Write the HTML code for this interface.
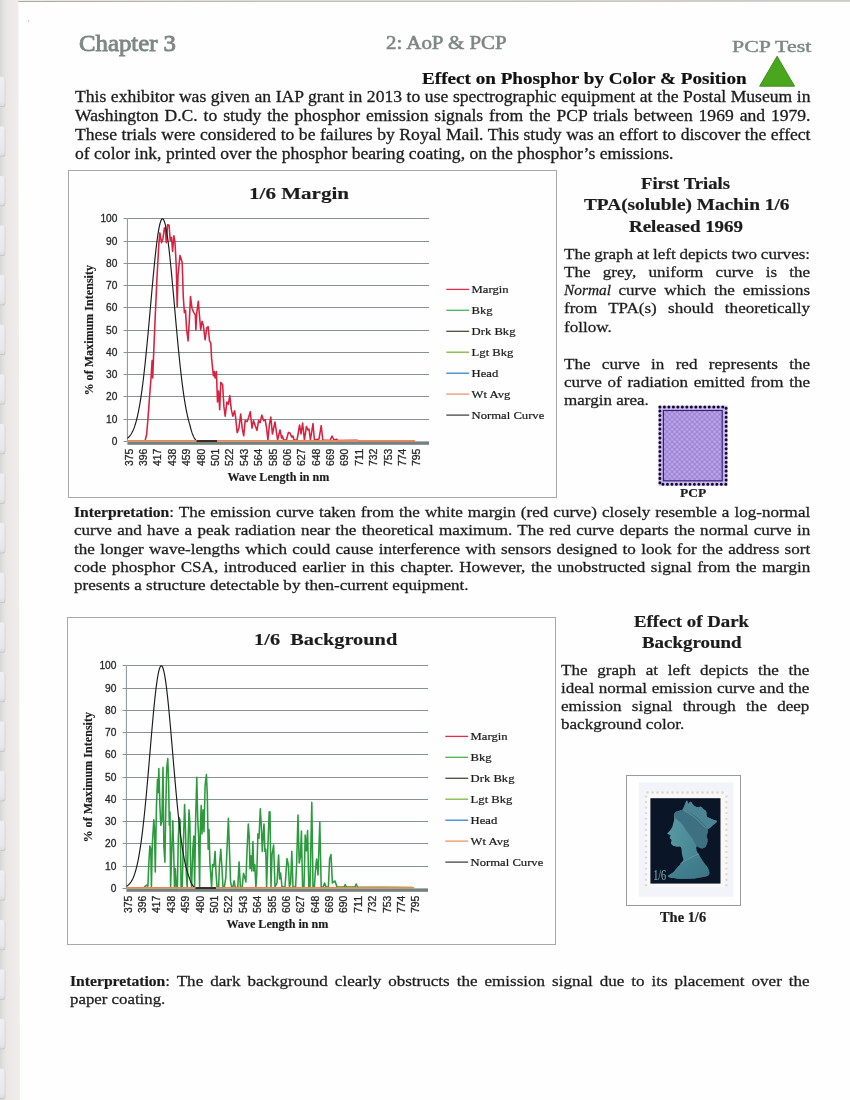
<!DOCTYPE html>
<html lang="en"><head><meta charset="utf-8"><title>Chapter 3 - 2: AoP &amp; PCP - PCP Test</title>
<style>
html,body{margin:0;padding:0;background:#fff}
body{width:850px;height:1100px;overflow:hidden}
#page{filter:blur(0.4px);position:relative;width:850px;height:1100px;overflow:hidden;background:#fefefe;font-family:"Liberation Serif","DejaVu Serif",serif;color:#1c1c1c}
header,section,h1,h2,p,.blk{margin:0;padding:0;font-size:inherit;font-weight:normal}
.t{position:absolute;display:block;white-space:pre;line-height:1;font-weight:normal;-webkit-text-stroke:0.26px currentColor;transform-origin:0 0}
i{font-style:italic;display:inline-block;transform:scaleX(0.9);transform-origin:0 50%;margin-right:-5px}
.ib{display:inline-block;transform:scaleX(0.917);transform-origin:0 50%;margin-right:-7.7px}
.b,b{font-weight:bold;-webkit-text-stroke:0.2px currentColor}
.n1{-webkit-text-stroke-width:0.3px}
.hd{-webkit-text-stroke:0.85px currentColor}
.h2{-webkit-text-stroke-width:0.6px}
.h3{-webkit-text-stroke-width:0.45px}
svg{position:absolute;left:0;top:0;overflow:visible}
svg text{font-family:"Liberation Serif","DejaVu Serif",serif}
svg text.s{font-family:"Liberation Sans","DejaVu Sans",sans-serif}
svg .k text{fill:#1c1c1c;stroke:#1c1c1c;stroke-width:0.2px}
svg .k text[font-weight]{stroke-width:0.15px}
svg .k text.lg{stroke-width:0.22px}
svg .k text.s{fill:#262626;stroke:#262626;stroke-width:0.28px}

</style></head>
<body>
<div id="page">
<svg class="bg" width="850" height="1100" viewBox="0 0 850 1100" aria-hidden="true"><defs><linearGradient id="sg" x1="0" y1="0" x2="1" y2="0"><stop offset="0" stop-color="#d8d5d5"/><stop offset="0.14" stop-color="#e1dede"/><stop offset="0.3" stop-color="#eae6e6"/><stop offset="0.8" stop-color="#efebeb"/><stop offset="1" stop-color="#f1eded"/></linearGradient><linearGradient id="tg" x1="0" y1="0" x2="0" y2="1"><stop offset="0" stop-color="#efeff1"/><stop offset="0.85" stop-color="#e7e7e9"/><stop offset="1" stop-color="#dddcdd"/></linearGradient></defs><polygon points="0,0 18.4,0 19.9,1100 0,1100" fill="url(#sg)"/><rect x="-3" y="77.6" width="8.3" height="29.5" rx="2.2" fill="#cbc8c8"/><rect x="-3" y="76.7" width="7.7" height="29.4" rx="2.2" fill="url(#tg)"/><rect x="-3" y="127.2" width="8.3" height="29.5" rx="2.2" fill="#cbc8c8"/><rect x="-3" y="126.3" width="7.7" height="29.4" rx="2.2" fill="url(#tg)"/><rect x="-3" y="176.8" width="8.3" height="29.5" rx="2.2" fill="#cbc8c8"/><rect x="-3" y="175.9" width="7.7" height="29.4" rx="2.2" fill="url(#tg)"/><rect x="-3" y="226.4" width="8.3" height="29.5" rx="2.2" fill="#cbc8c8"/><rect x="-3" y="225.5" width="7.7" height="29.4" rx="2.2" fill="url(#tg)"/><rect x="-3" y="276.0" width="8.3" height="29.5" rx="2.2" fill="#cbc8c8"/><rect x="-3" y="275.1" width="7.7" height="29.4" rx="2.2" fill="url(#tg)"/><rect x="-3" y="325.6" width="8.3" height="29.5" rx="2.2" fill="#cbc8c8"/><rect x="-3" y="324.7" width="7.7" height="29.4" rx="2.2" fill="url(#tg)"/><rect x="-3" y="375.2" width="8.3" height="29.5" rx="2.2" fill="#cbc8c8"/><rect x="-3" y="374.3" width="7.7" height="29.4" rx="2.2" fill="url(#tg)"/><rect x="-3" y="424.8" width="8.3" height="29.5" rx="2.2" fill="#cbc8c8"/><rect x="-3" y="423.9" width="7.7" height="29.4" rx="2.2" fill="url(#tg)"/><rect x="-3" y="474.4" width="8.3" height="29.5" rx="2.2" fill="#cbc8c8"/><rect x="-3" y="473.5" width="7.7" height="29.4" rx="2.2" fill="url(#tg)"/><rect x="-3" y="524.0" width="8.3" height="29.5" rx="2.2" fill="#cbc8c8"/><rect x="-3" y="523.1" width="7.7" height="29.4" rx="2.2" fill="url(#tg)"/><rect x="-3" y="573.6" width="8.3" height="29.5" rx="2.2" fill="#cbc8c8"/><rect x="-3" y="572.7" width="7.7" height="29.4" rx="2.2" fill="url(#tg)"/><rect x="-3" y="623.2" width="8.3" height="29.5" rx="2.2" fill="#cbc8c8"/><rect x="-3" y="622.3" width="7.7" height="29.4" rx="2.2" fill="url(#tg)"/><rect x="-3" y="672.8" width="8.3" height="29.5" rx="2.2" fill="#cbc8c8"/><rect x="-3" y="671.9" width="7.7" height="29.4" rx="2.2" fill="url(#tg)"/><rect x="-3" y="722.4" width="8.3" height="29.5" rx="2.2" fill="#cbc8c8"/><rect x="-3" y="721.5" width="7.7" height="29.4" rx="2.2" fill="url(#tg)"/><rect x="-3" y="772.0" width="8.3" height="29.5" rx="2.2" fill="#cbc8c8"/><rect x="-3" y="771.1" width="7.7" height="29.4" rx="2.2" fill="url(#tg)"/><rect x="-3" y="821.6" width="8.3" height="29.5" rx="2.2" fill="#cbc8c8"/><rect x="-3" y="820.7" width="7.7" height="29.4" rx="2.2" fill="url(#tg)"/><rect x="-3" y="871.2" width="8.3" height="29.5" rx="2.2" fill="#cbc8c8"/><rect x="-3" y="870.3" width="7.7" height="29.4" rx="2.2" fill="url(#tg)"/><rect x="-3" y="920.8" width="8.3" height="29.5" rx="2.2" fill="#cbc8c8"/><rect x="-3" y="919.9" width="7.7" height="29.4" rx="2.2" fill="url(#tg)"/><rect x="-3" y="970.4" width="8.3" height="29.5" rx="2.2" fill="#cbc8c8"/><rect x="-3" y="969.5" width="7.7" height="29.4" rx="2.2" fill="url(#tg)"/><rect x="-3" y="1020.0" width="8.3" height="29.5" rx="2.2" fill="#cbc8c8"/><rect x="-3" y="1019.1" width="7.7" height="29.4" rx="2.2" fill="url(#tg)"/><rect x="-3" y="1069.6" width="8.3" height="29.5" rx="2.2" fill="#cbc8c8"/><rect x="-3" y="1068.7" width="7.7" height="29.4" rx="2.2" fill="url(#tg)"/><rect x="18.4" y="-1" width="832" height="1.6" fill="#e0dedc"/><polygon points="18.4,0.9 850,0.5 850,1.5 18.4,1.9" fill="#aba8a5"/><circle cx="28.6" cy="21" r="0.6" fill="#8a8a8a"/></svg>
<header>
<span class="t hd" style="left:78.8px;top:33px;font-size:22.4px;transform:scaleX(1.1064);color:#7d8784">Chapter 3</span>
<span class="t hd h2" style="left:386.4px;top:33px;font-size:19.8px;transform:scaleX(1.0563);color:#7d8784">2: AoP &amp; PCP</span>
<span class="t hd h3" style="left:731.8px;top:38px;font-size:17.9px;transform-origin:0 14px;transform:scale(1.2208,0.94);color:#7d8784">PCP Test</span>
</header>
<h1 class="blk">
<span class="t b" style="left:422.4px;top:71px;font-size:16.9px;transform:scaleX(1.1329);color:#111">Effect on Phosphor by Color &amp; Position</span>
</h1>
<svg width="850" height="1100" viewBox="0 0 850 1100" aria-hidden="true"><polygon points="777.1,56.2 794.6,86.2 759.6,86.2" fill="#4aa71d" stroke="#3a861b" stroke-width="0.9" stroke-linejoin="round"/></svg>
<p class="blk">
<span class="t n1" style="left:75.0px;top:89px;font-size:16.8px;transform:scaleX(1.0480);word-spacing:0.169px">This exhibitor was given an IAP grant in 2013 to use spectrographic equipment at the Postal Museum in</span>
<span class="t n1" style="left:75.0px;top:108px;font-size:16.8px;transform:scaleX(1.0480);word-spacing:1.426px">Washington D.C. to study the phosphor emission signals from the PCP trials between 1969 and 1979.</span>
<span class="t n1" style="left:75.0px;top:127px;font-size:16.8px;transform:scaleX(1.0480);word-spacing:0.129px">These trials were considered to be failures by Royal Mail. This study was an effort to discover the effect</span>
<span class="t n1" style="left:75.0px;top:146px;font-size:16.8px;transform:scaleX(1.0488)">of color ink, printed over the phosphor bearing coating, on the phosphor’s emissions.</span>
</p>
<section>
<svg class="chart" width="850" height="1100" viewBox="0 0 850 1100" role="img" aria-label="Emission chart for the 1/6 margin">
<g class="k" transform="translate(0.0,0.0)">
<rect x="68.5" y="170.5" width="488" height="327" fill="#fefefe" stroke="#a8a8a8" stroke-width="1"/>
<line x1="123.60000000000001" y1="441.5" x2="127.4" y2="441.5" stroke="#869292" stroke-width="1"/>
<text class="s" x="117.4" y="445.1" font-size="10.2" text-anchor="end">0</text>
<line x1="127.4" y1="419.5" x2="429.0" y2="419.5" stroke="#869292" stroke-width="1"/>
<line x1="123.60000000000001" y1="419.5" x2="127.4" y2="419.5" stroke="#869292" stroke-width="1"/>
<text class="s" x="117.4" y="423.1" font-size="10.2" text-anchor="end">10</text>
<line x1="127.4" y1="396.5" x2="429.0" y2="396.5" stroke="#869292" stroke-width="1"/>
<line x1="123.60000000000001" y1="396.5" x2="127.4" y2="396.5" stroke="#869292" stroke-width="1"/>
<text class="s" x="117.4" y="400.1" font-size="10.2" text-anchor="end">20</text>
<line x1="127.4" y1="374.5" x2="429.0" y2="374.5" stroke="#869292" stroke-width="1"/>
<line x1="123.60000000000001" y1="374.5" x2="127.4" y2="374.5" stroke="#869292" stroke-width="1"/>
<text class="s" x="117.4" y="378.1" font-size="10.2" text-anchor="end">30</text>
<line x1="127.4" y1="352.5" x2="429.0" y2="352.5" stroke="#869292" stroke-width="1"/>
<line x1="123.60000000000001" y1="352.5" x2="127.4" y2="352.5" stroke="#869292" stroke-width="1"/>
<text class="s" x="117.4" y="356.1" font-size="10.2" text-anchor="end">40</text>
<line x1="127.4" y1="330.5" x2="429.0" y2="330.5" stroke="#869292" stroke-width="1"/>
<line x1="123.60000000000001" y1="330.5" x2="127.4" y2="330.5" stroke="#869292" stroke-width="1"/>
<text class="s" x="117.4" y="334.1" font-size="10.2" text-anchor="end">50</text>
<line x1="127.4" y1="307.5" x2="429.0" y2="307.5" stroke="#869292" stroke-width="1"/>
<line x1="123.60000000000001" y1="307.5" x2="127.4" y2="307.5" stroke="#869292" stroke-width="1"/>
<text class="s" x="117.4" y="311.1" font-size="10.2" text-anchor="end">60</text>
<line x1="127.4" y1="285.5" x2="429.0" y2="285.5" stroke="#869292" stroke-width="1"/>
<line x1="123.60000000000001" y1="285.5" x2="127.4" y2="285.5" stroke="#869292" stroke-width="1"/>
<text class="s" x="117.4" y="289.1" font-size="10.2" text-anchor="end">70</text>
<line x1="127.4" y1="263.5" x2="429.0" y2="263.5" stroke="#869292" stroke-width="1"/>
<line x1="123.60000000000001" y1="263.5" x2="127.4" y2="263.5" stroke="#869292" stroke-width="1"/>
<text class="s" x="117.4" y="267.1" font-size="10.2" text-anchor="end">80</text>
<line x1="127.4" y1="241.5" x2="429.0" y2="241.5" stroke="#869292" stroke-width="1"/>
<line x1="123.60000000000001" y1="241.5" x2="127.4" y2="241.5" stroke="#869292" stroke-width="1"/>
<text class="s" x="117.4" y="245.1" font-size="10.2" text-anchor="end">90</text>
<line x1="127.4" y1="218.5" x2="429.0" y2="218.5" stroke="#869292" stroke-width="1"/>
<line x1="123.60000000000001" y1="218.5" x2="127.4" y2="218.5" stroke="#869292" stroke-width="1"/>
<text class="s" x="117.4" y="222.1" font-size="10.2" text-anchor="end">100</text>
<line x1="127.4" y1="218.8" x2="127.4" y2="441.4" stroke="#869292" stroke-width="1"/>
<text class="s" font-size="10" textLength="17.3" lengthAdjust="spacingAndGlyphs" transform="translate(132.6,466) rotate(-90)">375</text>
<text class="s" font-size="10" textLength="17.3" lengthAdjust="spacingAndGlyphs" transform="translate(147.0,466) rotate(-90)">396</text>
<text class="s" font-size="10" textLength="17.3" lengthAdjust="spacingAndGlyphs" transform="translate(161.4,466) rotate(-90)">417</text>
<text class="s" font-size="10" textLength="17.3" lengthAdjust="spacingAndGlyphs" transform="translate(175.8,466) rotate(-90)">438</text>
<text class="s" font-size="10" textLength="17.3" lengthAdjust="spacingAndGlyphs" transform="translate(190.2,466) rotate(-90)">459</text>
<text class="s" font-size="10" textLength="17.3" lengthAdjust="spacingAndGlyphs" transform="translate(204.5,466) rotate(-90)">480</text>
<text class="s" font-size="10" textLength="17.3" lengthAdjust="spacingAndGlyphs" transform="translate(218.9,466) rotate(-90)">501</text>
<text class="s" font-size="10" textLength="17.3" lengthAdjust="spacingAndGlyphs" transform="translate(233.3,466) rotate(-90)">522</text>
<text class="s" font-size="10" textLength="17.3" lengthAdjust="spacingAndGlyphs" transform="translate(247.7,466) rotate(-90)">543</text>
<text class="s" font-size="10" textLength="17.3" lengthAdjust="spacingAndGlyphs" transform="translate(262.1,466) rotate(-90)">564</text>
<text class="s" font-size="10" textLength="17.3" lengthAdjust="spacingAndGlyphs" transform="translate(276.5,466) rotate(-90)">585</text>
<text class="s" font-size="10" textLength="17.3" lengthAdjust="spacingAndGlyphs" transform="translate(290.9,466) rotate(-90)">606</text>
<text class="s" font-size="10" textLength="17.3" lengthAdjust="spacingAndGlyphs" transform="translate(305.3,466) rotate(-90)">627</text>
<text class="s" font-size="10" textLength="17.3" lengthAdjust="spacingAndGlyphs" transform="translate(319.7,466) rotate(-90)">648</text>
<text class="s" font-size="10" textLength="17.3" lengthAdjust="spacingAndGlyphs" transform="translate(334.1,466) rotate(-90)">669</text>
<text class="s" font-size="10" textLength="17.3" lengthAdjust="spacingAndGlyphs" transform="translate(348.4,466) rotate(-90)">690</text>
<text class="s" font-size="10" textLength="17.3" lengthAdjust="spacingAndGlyphs" transform="translate(362.8,466) rotate(-90)">711</text>
<text class="s" font-size="10" textLength="17.3" lengthAdjust="spacingAndGlyphs" transform="translate(377.2,466) rotate(-90)">732</text>
<text class="s" font-size="10" textLength="17.3" lengthAdjust="spacingAndGlyphs" transform="translate(391.6,466) rotate(-90)">753</text>
<text class="s" font-size="10" textLength="17.3" lengthAdjust="spacingAndGlyphs" transform="translate(406.0,466) rotate(-90)">774</text>
<text class="s" font-size="10" textLength="17.3" lengthAdjust="spacingAndGlyphs" transform="translate(420.4,466) rotate(-90)">795</text>
<path d="M145.1,440.6 L146.6,434.7 L147.9,419.5 L149.5,397.7 L151.2,375.8 L152.1,360.6 L152.7,378.0 L153.8,349.6 L155.3,314.7 L157.1,275.5 L158.8,244.9 L159.9,232.9 L161.5,242.7 L163.0,238.4 L164.3,228.5 L165.2,227.5 L166.3,242.7 L167.6,224.8 L169.1,225.3 L170.2,240.5 L171.5,237.3 L172.6,251.5 L173.9,235.7 L175.0,242.7 L176.3,266.7 L177.2,307.1 L178.0,275.5 L180.0,255.4 L182.2,262.4 L183.3,297.3 L184.4,312.6 L185.5,310.4 L186.6,328.9 L188.1,340.9 L189.4,319.1 L190.5,296.6 L192.0,308.2 L193.8,312.6 L195.3,314.7 L195.9,330.0 L196.8,312.6 L198.3,301.2 L199.4,314.7 L200.7,330.0 L202.0,321.3 L203.4,325.6 L205.1,339.8 L206.8,327.8 L208.2,326.7 L209.5,340.9 L210.8,343.1 L211.6,358.4 L213.4,375.8 L214.3,371.5 L215.1,378.0 L216.4,371.5 L217.5,402.0 L218.6,391.1 L219.7,409.7 L220.8,382.4 L222.6,384.6 L223.9,406.4 L225.2,416.2 L226.9,402.0 L228.4,404.2 L229.8,395.5 L231.3,409.7 L232.8,416.2 L234.6,410.7 L235.6,417.3 L237.2,432.6 L238.9,428.2 L240.7,414.0 L242.2,428.2 L243.7,435.8 L245.2,420.6 L247.0,421.7 L248.7,417.3 L250.3,411.8 L252.0,428.2 L253.5,420.6 L255.3,426.0 L257.0,430.4 L258.6,420.6 L260.1,422.7 L261.8,415.1 L263.6,420.6 L265.1,419.5 L266.6,428.2 L267.9,440.2 L269.5,423.8 L270.8,417.0 L272.4,434.0 L275.0,422.0 L277.6,440.0 L280.0,430.0 L281.6,438.0 L282.4,436.0 L283.6,440.0 L286.4,440.0 L288.4,432.4 L290.0,433.0 L291.6,437.0 L293.0,436.0 L294.0,440.0 L297.0,440.0 L299.6,425.0 L301.0,434.0 L302.6,423.0 L304.4,440.0 L306.4,426.4 L308.0,430.0 L309.0,429.0 L310.4,440.0 L313.0,423.6 L314.4,440.0 L319.0,439.0 L321.2,425.6 L322.8,440.0 L330.0,440.6 L332.0,436.0 L334.0,440.0 L336.4,439.2 L338.0,440.6 L357.0,440.2 L358.0,440.8 L415.0,440.8" fill="none" stroke="#d9203f" stroke-width="1.55" stroke-linejoin="round"/>
<path d="M127.4,438.3 L127.9,437.9 L128.4,437.5 L128.9,437.0 L129.4,436.4 L129.9,435.8 L130.4,435.2 L130.9,434.5 L131.4,433.7 L131.9,432.8 L132.4,431.8 L132.9,430.8 L133.4,429.6 L133.9,428.4 L134.4,427.1 L134.9,425.6 L135.4,424.0 L135.9,422.3 L136.4,420.5 L136.9,418.5 L137.4,416.4 L137.9,414.2 L138.4,411.8 L138.9,409.2 L139.4,406.5 L139.9,403.6 L140.4,400.6 L140.9,397.3 L141.4,394.0 L141.9,390.4 L142.4,386.7 L142.9,382.8 L143.4,378.7 L143.9,374.4 L144.4,370.0 L144.9,365.5 L145.4,360.8 L145.9,355.9 L146.4,350.9 L146.9,345.8 L147.4,340.5 L147.9,335.2 L148.4,329.8 L148.9,324.3 L149.4,318.7 L149.9,313.1 L150.4,307.5 L150.9,301.9 L151.4,296.3 L151.9,290.7 L152.4,285.2 L152.9,279.8 L153.4,274.4 L153.9,269.2 L154.4,264.1 L154.9,259.3 L155.4,254.5 L155.9,250.0 L156.4,245.8 L156.9,241.8 L157.4,238.0 L157.9,234.6 L158.4,231.4 L158.9,228.6 L159.4,226.1 L159.9,224.0 L160.4,222.2 L160.9,220.8 L161.4,219.7 L161.9,219.1 L162.4,218.8 L162.9,218.9 L163.4,219.4 L163.9,220.3 L164.4,221.6 L164.9,223.2 L165.4,225.2 L165.9,227.6 L166.4,230.3 L166.9,233.3 L167.4,236.6 L167.9,240.2 L168.4,244.1 L168.9,248.3 L169.4,252.7 L169.9,257.3 L170.4,262.2 L170.9,267.2 L171.4,272.3 L171.9,277.6 L172.4,283.0 L172.9,288.5 L173.4,294.0 L173.9,299.6 L174.4,305.3 L174.9,310.9 L175.4,316.5 L175.9,322.1 L176.4,327.6 L176.9,333.0 L177.4,338.4 L177.9,343.7 L178.4,348.9 L178.9,353.9 L179.4,358.8 L179.9,363.6 L180.4,368.2 L180.9,372.7 L181.4,377.0 L181.9,381.1 L182.4,385.1 L182.9,388.9 L183.4,392.6 L183.9,396.0 L184.4,399.3 L184.9,402.4 L185.4,405.4 L185.9,408.1 L186.4,410.8 L186.9,413.2 L187.4,415.5 L187.9,417.7 L188.4,419.7 L188.9,421.6 L189.4,423.4 L189.9,425.0 L190.4,427.0 L190.9,429.0 L191.4,430.8 L191.9,432.4 L192.4,433.8 L192.9,435.1 L193.4,436.2 L193.9,437.2 L194.4,438.1 L194.9,438.9 L195.4,439.6 L195.9,440.3 L196.4,441.1 L196.6,441.1 L217.0,441.1" fill="none" stroke="#1a1a1a" stroke-width="1.15" stroke-linejoin="round"/>
<rect x="127.4" y="441.4" width="301.6" height="3.4" fill="#74827f"/>
<rect x="127.4" y="440.0" width="287.6" height="1.5" fill="#f0884e"/>
<rect x="196.6" y="440.2" width="20.4" height="1.6" fill="#1a1a1a"/>
<text x="249.0" y="198.6" font-size="17.6" font-weight="bold" textLength="100.0" lengthAdjust="spacingAndGlyphs" xml:space="preserve">1/6 Margin</text>
<text x="227.4" y="480.5" font-size="11.8" font-weight="bold" textLength="102" lengthAdjust="spacingAndGlyphs">Wave Length in nm</text>
<text font-size="11.6" font-weight="bold" textLength="130.5" lengthAdjust="spacingAndGlyphs" transform="translate(93.1,395.5) rotate(-90)">% of Maximum Intensity</text>
<line x1="446.3" y1="289.4" x2="469.2" y2="289.4" stroke="#d9304f" stroke-width="1.3"/>
<text class="lg" font-size="11.3" transform="translate(471.6,292.9) scale(1.12,1)">Margin</text>
<line x1="446.3" y1="310.3" x2="469.2" y2="310.3" stroke="#4cb450" stroke-width="1.3"/>
<text class="lg" font-size="11.3" transform="translate(471.6,313.8) scale(1.12,1)">Bkg</text>
<line x1="446.3" y1="331.3" x2="469.2" y2="331.3" stroke="#4b4b3c" stroke-width="1.3"/>
<text class="lg" font-size="11.3" transform="translate(471.6,334.8) scale(1.12,1)">Drk Bkg</text>
<line x1="446.3" y1="352.2" x2="469.2" y2="352.2" stroke="#7cb83a" stroke-width="1.3"/>
<text class="lg" font-size="11.3" transform="translate(471.6,355.8) scale(1.12,1)">Lgt Bkg</text>
<line x1="446.3" y1="373.2" x2="469.2" y2="373.2" stroke="#3a82c8" stroke-width="1.3"/>
<text class="lg" font-size="11.3" transform="translate(471.6,376.7) scale(1.12,1)">Head</text>
<line x1="446.3" y1="394.1" x2="469.2" y2="394.1" stroke="#f0936a" stroke-width="1.3"/>
<text class="lg" font-size="11.3" transform="translate(471.6,397.6) scale(1.12,1)">Wt Avg</text>
<line x1="446.3" y1="415.1" x2="469.2" y2="415.1" stroke="#444444" stroke-width="1.3"/>
<text class="lg" font-size="11.3" transform="translate(471.6,418.6) scale(1.12,1)">Normal Curve</text>
</g></svg>
<h2 class="blk">
<span class="t b" style="left:641.4px;top:176px;font-size:16.7px;transform-origin:0 13px;transform:scale(1.1171,1.05)">First Trials</span>
<span class="t b" style="left:583.6px;top:197px;font-size:16.7px;transform-origin:0 13px;transform:scale(1.1559,1.05)">TPA(soluble) Machin 1/6</span>
<span class="t b" style="left:629.0px;top:219px;font-size:16.7px;transform-origin:0 13px;transform:scale(1.1334,1.05)">Released 1969</span>
</h2>
<p class="blk">
<span class="t" style="left:563.9px;top:246px;font-size:15.3px;transform:scaleX(1.1150);word-spacing:-0.453px">The graph at left depicts two curves:</span>
<span class="t" style="left:563.9px;top:264px;font-size:15.3px;transform:scaleX(1.1150);word-spacing:7.131px">The grey, uniform curve is the</span>
<span class="t" style="left:563.9px;top:282px;font-size:15.3px;transform:scaleX(1.1150);word-spacing:3.320px"><i>Normal</i> curve which the emissions</span>
<span class="t" style="left:563.9px;top:300px;font-size:15.3px;transform:scaleX(1.1150);word-spacing:6.302px">from TPA(s) should theoretically</span>
<span class="t" style="left:563.9px;top:319px;font-size:15.3px;transform:scaleX(1.1150)">follow.</span>
</p>
<p class="blk">
<span class="t" style="left:563.9px;top:356px;font-size:15.3px;transform:scaleX(1.1150);word-spacing:6.340px">The curve in red represents the</span>
<span class="t" style="left:563.9px;top:374px;font-size:15.3px;transform:scaleX(1.1150);word-spacing:1.243px">curve of radiation emitted from the</span>
<span class="t" style="left:563.9px;top:392px;font-size:15.3px;transform:scaleX(1.1133)">margin area.</span>
</p>
<svg width="850" height="1100" viewBox="0 0 850 1100" role="img" aria-label="PCP trial stamp"><defs><pattern id="pp" x="663.4" y="410.5" width="5" height="5" patternUnits="userSpaceOnUse"><rect width="5" height="5" fill="#a68bd9"/><circle cx="1.25" cy="1.25" r="1.1" fill="#cbb6f2"/><circle cx="3.75" cy="3.75" r="1.1" fill="#cbb6f2"/><circle cx="3.75" cy="1.25" r="0.75" fill="#8d76c9"/><circle cx="1.25" cy="3.75" r="0.75" fill="#8d76c9"/></pattern></defs><rect x="658.4" y="405.6" width="69.2" height="80.2" fill="#cdbdef"/><rect x="659.9" y="407.1" width="66.2" height="77.2" fill="none" stroke="#120a2c" stroke-width="3" stroke-linecap="round" stroke-dasharray="0.01 4.48"/><rect x="662.2" y="409.4" width="61.6" height="72.6" fill="#bda8ea"/><rect x="663.4" y="410.5" width="58.8" height="70.3" fill="url(#pp)" stroke="#2f1f70" stroke-width="1.1"/></svg>
<div class="blk">
<span class="t b" style="left:680.3px;top:486px;font-size:13.4px;transform:scaleX(1.0026)">PCP</span>
</div>
<p class="blk">
<span class="t" style="left:74.4px;top:504px;font-size:15.3px;transform:scaleX(1.1150);word-spacing:0.681px"><b class="ib">Interpretation</b>: The emission curve taken from the white margin (red curve) closely resemble a log-normal</span>
<span class="t" style="left:74.4px;top:522px;font-size:15.3px;transform:scaleX(1.1150);word-spacing:0.929px">curve and have a peak radiation near the theoretical maximum. The red curve departs the normal curve in</span>
<span class="t" style="left:74.4px;top:541px;font-size:15.3px;transform:scaleX(1.1150);word-spacing:0.944px">the longer wave-lengths which could cause interference with sensors designed to look for the address sort</span>
<span class="t" style="left:74.4px;top:559px;font-size:15.3px;transform:scaleX(1.1150);word-spacing:1.134px">code phosphor CSA, introduced earlier in this chapter. However, the unobstructed signal from the margin</span>
<span class="t" style="left:74.4px;top:577px;font-size:15.3px;transform:scaleX(1.1153)">presents a structure detectable by then-current equipment.</span>
</p>
</section>
<section>
<svg class="chart" width="850" height="1100" viewBox="0 0 850 1100" role="img" aria-label="Emission chart for the 1/6 background">
<g class="k" transform="translate(-1.0,447.0)">
<rect x="68.5" y="170.5" width="488" height="327" fill="#fefefe" stroke="#a8a8a8" stroke-width="1"/>
<line x1="123.60000000000001" y1="441.5" x2="127.4" y2="441.5" stroke="#869292" stroke-width="1"/>
<text class="s" x="117.4" y="445.1" font-size="10.2" text-anchor="end">0</text>
<line x1="127.4" y1="419.5" x2="429.0" y2="419.5" stroke="#869292" stroke-width="1"/>
<line x1="123.60000000000001" y1="419.5" x2="127.4" y2="419.5" stroke="#869292" stroke-width="1"/>
<text class="s" x="117.4" y="423.1" font-size="10.2" text-anchor="end">10</text>
<line x1="127.4" y1="396.5" x2="429.0" y2="396.5" stroke="#869292" stroke-width="1"/>
<line x1="123.60000000000001" y1="396.5" x2="127.4" y2="396.5" stroke="#869292" stroke-width="1"/>
<text class="s" x="117.4" y="400.1" font-size="10.2" text-anchor="end">20</text>
<line x1="127.4" y1="374.5" x2="429.0" y2="374.5" stroke="#869292" stroke-width="1"/>
<line x1="123.60000000000001" y1="374.5" x2="127.4" y2="374.5" stroke="#869292" stroke-width="1"/>
<text class="s" x="117.4" y="378.1" font-size="10.2" text-anchor="end">30</text>
<line x1="127.4" y1="352.5" x2="429.0" y2="352.5" stroke="#869292" stroke-width="1"/>
<line x1="123.60000000000001" y1="352.5" x2="127.4" y2="352.5" stroke="#869292" stroke-width="1"/>
<text class="s" x="117.4" y="356.1" font-size="10.2" text-anchor="end">40</text>
<line x1="127.4" y1="330.5" x2="429.0" y2="330.5" stroke="#869292" stroke-width="1"/>
<line x1="123.60000000000001" y1="330.5" x2="127.4" y2="330.5" stroke="#869292" stroke-width="1"/>
<text class="s" x="117.4" y="334.1" font-size="10.2" text-anchor="end">50</text>
<line x1="127.4" y1="307.5" x2="429.0" y2="307.5" stroke="#869292" stroke-width="1"/>
<line x1="123.60000000000001" y1="307.5" x2="127.4" y2="307.5" stroke="#869292" stroke-width="1"/>
<text class="s" x="117.4" y="311.1" font-size="10.2" text-anchor="end">60</text>
<line x1="127.4" y1="285.5" x2="429.0" y2="285.5" stroke="#869292" stroke-width="1"/>
<line x1="123.60000000000001" y1="285.5" x2="127.4" y2="285.5" stroke="#869292" stroke-width="1"/>
<text class="s" x="117.4" y="289.1" font-size="10.2" text-anchor="end">70</text>
<line x1="127.4" y1="263.5" x2="429.0" y2="263.5" stroke="#869292" stroke-width="1"/>
<line x1="123.60000000000001" y1="263.5" x2="127.4" y2="263.5" stroke="#869292" stroke-width="1"/>
<text class="s" x="117.4" y="267.1" font-size="10.2" text-anchor="end">80</text>
<line x1="127.4" y1="241.5" x2="429.0" y2="241.5" stroke="#869292" stroke-width="1"/>
<line x1="123.60000000000001" y1="241.5" x2="127.4" y2="241.5" stroke="#869292" stroke-width="1"/>
<text class="s" x="117.4" y="245.1" font-size="10.2" text-anchor="end">90</text>
<line x1="127.4" y1="218.5" x2="429.0" y2="218.5" stroke="#869292" stroke-width="1"/>
<line x1="123.60000000000001" y1="218.5" x2="127.4" y2="218.5" stroke="#869292" stroke-width="1"/>
<text class="s" x="117.4" y="222.1" font-size="10.2" text-anchor="end">100</text>
<line x1="127.4" y1="218.8" x2="127.4" y2="441.4" stroke="#869292" stroke-width="1"/>
<text class="s" font-size="10" textLength="17.3" lengthAdjust="spacingAndGlyphs" transform="translate(132.6,466) rotate(-90)">375</text>
<text class="s" font-size="10" textLength="17.3" lengthAdjust="spacingAndGlyphs" transform="translate(147.0,466) rotate(-90)">396</text>
<text class="s" font-size="10" textLength="17.3" lengthAdjust="spacingAndGlyphs" transform="translate(161.4,466) rotate(-90)">417</text>
<text class="s" font-size="10" textLength="17.3" lengthAdjust="spacingAndGlyphs" transform="translate(175.8,466) rotate(-90)">438</text>
<text class="s" font-size="10" textLength="17.3" lengthAdjust="spacingAndGlyphs" transform="translate(190.2,466) rotate(-90)">459</text>
<text class="s" font-size="10" textLength="17.3" lengthAdjust="spacingAndGlyphs" transform="translate(204.5,466) rotate(-90)">480</text>
<text class="s" font-size="10" textLength="17.3" lengthAdjust="spacingAndGlyphs" transform="translate(218.9,466) rotate(-90)">501</text>
<text class="s" font-size="10" textLength="17.3" lengthAdjust="spacingAndGlyphs" transform="translate(233.3,466) rotate(-90)">522</text>
<text class="s" font-size="10" textLength="17.3" lengthAdjust="spacingAndGlyphs" transform="translate(247.7,466) rotate(-90)">543</text>
<text class="s" font-size="10" textLength="17.3" lengthAdjust="spacingAndGlyphs" transform="translate(262.1,466) rotate(-90)">564</text>
<text class="s" font-size="10" textLength="17.3" lengthAdjust="spacingAndGlyphs" transform="translate(276.5,466) rotate(-90)">585</text>
<text class="s" font-size="10" textLength="17.3" lengthAdjust="spacingAndGlyphs" transform="translate(290.9,466) rotate(-90)">606</text>
<text class="s" font-size="10" textLength="17.3" lengthAdjust="spacingAndGlyphs" transform="translate(305.3,466) rotate(-90)">627</text>
<text class="s" font-size="10" textLength="17.3" lengthAdjust="spacingAndGlyphs" transform="translate(319.7,466) rotate(-90)">648</text>
<text class="s" font-size="10" textLength="17.3" lengthAdjust="spacingAndGlyphs" transform="translate(334.1,466) rotate(-90)">669</text>
<text class="s" font-size="10" textLength="17.3" lengthAdjust="spacingAndGlyphs" transform="translate(348.4,466) rotate(-90)">690</text>
<text class="s" font-size="10" textLength="17.3" lengthAdjust="spacingAndGlyphs" transform="translate(362.8,466) rotate(-90)">711</text>
<text class="s" font-size="10" textLength="17.3" lengthAdjust="spacingAndGlyphs" transform="translate(377.2,466) rotate(-90)">732</text>
<text class="s" font-size="10" textLength="17.3" lengthAdjust="spacingAndGlyphs" transform="translate(391.6,466) rotate(-90)">753</text>
<text class="s" font-size="10" textLength="17.3" lengthAdjust="spacingAndGlyphs" transform="translate(406.0,466) rotate(-90)">774</text>
<text class="s" font-size="10" textLength="17.3" lengthAdjust="spacingAndGlyphs" transform="translate(420.4,466) rotate(-90)">795</text>
<path d="M145.0,440.4 L147.6,438.2 L148.9,439.3 L150.0,413.1 L150.9,398.9 L151.8,402.2 L152.4,440.4 L153.3,397.8 L154.8,372.7 L155.5,382.6 L156.3,425.1 L157.4,360.7 L158.5,332.4 L159.2,345.5 L159.8,321.5 L160.9,358.6 L161.8,378.2 L162.9,373.8 L164.0,320.4 L164.9,400.0 L165.9,415.3 L166.8,360.7 L167.7,321.5 L168.8,311.6 L169.7,338.9 L170.3,378.2 L171.0,365.1 L171.6,440.4 L172.7,404.4 L173.8,373.8 L174.7,404.4 L175.5,440.4 L176.4,421.8 L177.3,440.4 L178.4,440.4 L179.3,391.3 L180.3,370.6 L181.2,373.8 L182.1,440.4 L183.2,440.4 L184.1,404.4 L185.6,357.5 L186.5,382.6 L187.3,426.2 L188.2,440.4 L189.1,395.7 L190.0,362.9 L190.8,373.8 L191.7,426.2 L192.6,440.4 L193.7,404.4 L194.8,389.1 L195.6,440.4 L196.7,369.5 L197.8,330.2 L198.7,371.6 L199.6,389.1 L200.6,440.4 L201.3,382.6 L202.2,358.6 L203.0,386.9 L204.1,362.9 L205.0,384.7 L206.1,338.9 L207.4,327.6 L208.3,347.6 L209.2,402.2 L210.0,382.6 L210.9,415.3 L211.8,428.4 L212.6,440.4 L213.7,417.5 L214.8,419.7 L216.1,404.4 L217.0,426.2 L218.1,440.4 L219.6,440.4 L220.5,417.5 L221.8,402.2 L222.9,419.7 L224.0,440.4 L225.3,440.4 L226.8,430.6 L227.9,404.4 L229.4,371.2 L230.5,404.4 L231.6,434.9 L232.7,440.4 L234.0,439.3 L235.1,433.8 L236.2,440.4 L238.8,440.4 L240.1,414.9 L241.4,440.4 L243.2,440.4 L244.5,426.2 L245.8,430.6 L246.9,434.9 L248.0,404.4 L249.3,377.1 L250.2,389.1 L251.0,421.8 L251.9,408.7 L252.8,424.0 L253.9,394.6 L254.8,424.0 L255.8,417.5 L256.9,440.4 L257.8,426.2 L258.9,386.9 L260.0,391.3 L261.3,361.8 L262.4,380.4 L263.3,404.4 L264.1,389.1 L265.0,377.1 L265.9,404.4 L266.8,402.2 L267.6,440.4 L268.7,404.4 L270.2,364.7 L271.0,365.0 L272.0,440.0 L273.0,408.0 L274.6,398.0 L276.0,440.0 L278.0,436.0 L279.6,408.0 L280.6,432.0 L281.6,426.0 L283.0,440.0 L286.0,440.0 L288.0,411.6 L289.4,418.0 L290.4,440.0 L291.6,436.0 L292.8,404.4 L294.0,440.0 L296.6,440.0 L297.6,418.0 L299.0,368.0 L300.2,416.0 L301.4,410.0 L302.4,384.0 L303.6,440.0 L305.0,440.0 L306.2,388.0 L307.4,404.0 L308.6,383.6 L309.8,440.0 L311.0,440.0 L312.8,355.4 L314.0,440.0 L315.4,440.0 L316.4,424.0 L317.6,412.0 L319.0,428.0 L320.8,375.0 L322.2,440.0 L324.2,440.0 L325.6,436.0 L327.0,440.0 L329.4,440.0 L330.6,412.0 L332.0,407.6 L333.4,436.0 L334.6,435.0 L336.0,434.0 L338.0,440.0 L345.0,440.0 L346.2,437.6 L347.4,440.0 L356.0,440.0 L357.2,437.0 L358.6,440.0 L414.0,440.4" fill="none" stroke="#2a9a3c" stroke-width="1.55" stroke-linejoin="round"/>
<path d="M127.4,439.3 L127.9,439.1 L128.4,438.7 L128.9,438.4 L129.4,437.9 L129.9,437.5 L130.4,437.0 L130.9,436.4 L131.4,435.7 L131.9,435.0 L132.4,434.3 L132.9,433.4 L133.4,432.4 L133.9,431.4 L134.4,430.3 L134.9,429.0 L135.4,427.6 L135.9,426.2 L136.4,424.5 L136.9,422.8 L137.4,420.9 L137.9,418.9 L138.4,416.7 L138.9,414.3 L139.4,411.8 L139.9,409.1 L140.4,406.2 L140.9,403.2 L141.4,399.9 L141.9,396.5 L142.4,392.9 L142.9,389.1 L143.4,385.1 L143.9,380.9 L144.4,376.5 L144.9,372.0 L145.4,367.2 L145.9,362.3 L146.4,357.2 L146.9,352.0 L147.4,346.7 L147.9,341.2 L148.4,335.5 L148.9,329.8 L149.4,324.1 L149.9,318.2 L150.4,312.3 L150.9,306.4 L151.4,300.5 L151.9,294.6 L152.4,288.7 L152.9,283.0 L153.4,277.3 L153.9,271.7 L154.4,266.3 L154.9,261.1 L155.4,256.1 L155.9,251.3 L156.4,246.7 L156.9,242.4 L157.4,238.4 L157.9,234.8 L158.4,231.5 L158.9,228.5 L159.4,225.9 L159.9,223.7 L160.4,221.9 L160.9,220.5 L161.4,219.5 L161.9,218.9 L162.4,218.8 L162.9,219.1 L163.4,219.8 L163.9,221.0 L164.4,222.5 L164.9,224.5 L165.4,226.9 L165.9,229.6 L166.4,232.7 L166.9,236.2 L167.4,240.0 L167.9,244.1 L168.4,248.5 L168.9,253.1 L169.4,258.0 L169.9,263.2 L170.4,268.5 L170.9,273.9 L171.4,279.5 L171.9,285.3 L172.4,291.1 L172.9,296.9 L173.4,302.8 L173.9,308.8 L174.4,314.7 L174.9,320.5 L175.4,326.4 L175.9,332.1 L176.4,337.8 L176.9,343.4 L177.4,348.8 L177.9,354.1 L178.4,359.3 L178.9,364.3 L179.4,369.1 L179.9,373.8 L180.4,378.3 L180.9,382.6 L181.4,386.7 L181.9,390.6 L182.4,394.4 L182.9,397.9 L183.4,401.3 L183.9,404.4 L184.4,407.4 L184.9,410.2 L185.4,412.8 L185.9,415.3 L186.4,417.6 L186.9,419.7 L187.4,421.7 L187.9,423.5 L188.4,425.2 L188.9,426.8 L189.4,428.2 L189.9,429.5 L190.4,431.1 L190.9,432.7 L191.4,434.0 L191.9,435.2 L192.4,436.2 L192.9,437.1 L193.4,437.9 L193.9,438.6 L194.4,439.3 L194.9,439.8 L195.4,440.3 L195.9,440.7 L196.4,441.2 L196.6,441.1 L217.0,441.1" fill="none" stroke="#1a1a1a" stroke-width="1.15" stroke-linejoin="round"/>
<rect x="127.4" y="441.4" width="301.6" height="3.4" fill="#74827f"/>
<rect x="127.4" y="440.0" width="287.6" height="1.5" fill="#f0884e"/>
<rect x="196.6" y="440.2" width="20.4" height="1.6" fill="#1a1a1a"/>
<text x="255.1" y="198.20000000000005" font-size="17.6" font-weight="bold" textLength="143.1" lengthAdjust="spacingAndGlyphs" xml:space="preserve">1/6  Background</text>
<text x="227.4" y="480.5" font-size="11.8" font-weight="bold" textLength="102" lengthAdjust="spacingAndGlyphs">Wave Length in nm</text>
<text font-size="11.6" font-weight="bold" textLength="130.5" lengthAdjust="spacingAndGlyphs" transform="translate(93.1,395.5) rotate(-90)">% of Maximum Intensity</text>
<line x1="446.3" y1="289.4" x2="469.2" y2="289.4" stroke="#d9304f" stroke-width="1.3"/>
<text class="lg" font-size="11.3" transform="translate(471.6,292.9) scale(1.12,1)">Margin</text>
<line x1="446.3" y1="310.3" x2="469.2" y2="310.3" stroke="#4cb450" stroke-width="1.3"/>
<text class="lg" font-size="11.3" transform="translate(471.6,313.8) scale(1.12,1)">Bkg</text>
<line x1="446.3" y1="331.3" x2="469.2" y2="331.3" stroke="#4b4b3c" stroke-width="1.3"/>
<text class="lg" font-size="11.3" transform="translate(471.6,334.8) scale(1.12,1)">Drk Bkg</text>
<line x1="446.3" y1="352.2" x2="469.2" y2="352.2" stroke="#7cb83a" stroke-width="1.3"/>
<text class="lg" font-size="11.3" transform="translate(471.6,355.8) scale(1.12,1)">Lgt Bkg</text>
<line x1="446.3" y1="373.2" x2="469.2" y2="373.2" stroke="#3a82c8" stroke-width="1.3"/>
<text class="lg" font-size="11.3" transform="translate(471.6,376.7) scale(1.12,1)">Head</text>
<line x1="446.3" y1="394.1" x2="469.2" y2="394.1" stroke="#f0936a" stroke-width="1.3"/>
<text class="lg" font-size="11.3" transform="translate(471.6,397.6) scale(1.12,1)">Wt Avg</text>
<line x1="446.3" y1="415.1" x2="469.2" y2="415.1" stroke="#444444" stroke-width="1.3"/>
<text class="lg" font-size="11.3" transform="translate(471.6,418.6) scale(1.12,1)">Normal Curve</text>
</g></svg>
<h2 class="blk">
<span class="t b" style="left:633.8px;top:614px;font-size:16.7px;transform-origin:0 13px;transform:scale(1.1280,1.05)">Effect of Dark</span>
<span class="t b" style="left:642.4px;top:635px;font-size:16.7px;transform-origin:0 13px;transform:scale(1.1322,1.05)">Background</span>
</h2>
<p class="blk">
<span class="t" style="left:561.4px;top:662px;font-size:15.3px;transform:scaleX(1.1150);word-spacing:4.849px">The graph at left depicts the the</span>
<span class="t" style="left:561.4px;top:680px;font-size:15.3px;transform:scaleX(1.1150);word-spacing:0.294px">ideal normal emission curve and the</span>
<span class="t" style="left:561.4px;top:698px;font-size:15.3px;transform:scaleX(1.1150);word-spacing:5.347px">emission signal through the deep</span>
<span class="t" style="left:561.4px;top:716px;font-size:15.3px;transform:scaleX(1.1154)">background color.</span>
</p>
<svg width="850" height="1100" viewBox="0 0 850 1100" role="img" aria-label="The 1/6 Machin stamp"><defs><linearGradient id="qf" x1="0" y1="0" x2="1" y2="0.4"><stop offset="0" stop-color="#5c9ca6"/><stop offset="1" stop-color="#3f7f8e"/></linearGradient><linearGradient id="qb" x1="0" y1="0" x2="1" y2="1"><stop offset="0" stop-color="#4a8b98"/><stop offset="1" stop-color="#3a7484"/></linearGradient></defs><rect x="626.5" y="775.5" width="114" height="130" fill="#fefefe" stroke="#9a9a9a" stroke-width="1"/><rect x="638.9" y="782.3" width="94.4" height="114.5" fill="#f3f4fa"/><rect x="645.3" y="792" width="81.9" height="95" fill="#f9f8f6"/><circle cx="647.5" cy="792.4" r="1.25" fill="#d9d5cd"/><circle cx="652.5" cy="792.4" r="1.25" fill="#d9d5cd"/><circle cx="657.5" cy="792.4" r="1.25" fill="#d9d5cd"/><circle cx="662.5" cy="792.4" r="1.25" fill="#d9d5cd"/><circle cx="667.5" cy="792.4" r="1.25" fill="#d9d5cd"/><circle cx="672.5" cy="792.4" r="1.25" fill="#d9d5cd"/><circle cx="677.5" cy="792.4" r="1.25" fill="#d9d5cd"/><circle cx="682.5" cy="792.4" r="1.25" fill="#d9d5cd"/><circle cx="687.5" cy="792.4" r="1.25" fill="#d9d5cd"/><circle cx="692.5" cy="792.4" r="1.25" fill="#d9d5cd"/><circle cx="697.5" cy="792.4" r="1.25" fill="#d9d5cd"/><circle cx="702.5" cy="792.4" r="1.25" fill="#d9d5cd"/><circle cx="707.5" cy="792.4" r="1.25" fill="#d9d5cd"/><circle cx="712.5" cy="792.4" r="1.25" fill="#d9d5cd"/><circle cx="717.5" cy="792.4" r="1.25" fill="#d9d5cd"/><circle cx="722.5" cy="792.4" r="1.25" fill="#d9d5cd"/><circle cx="646" cy="796.5" r="1.2" fill="#dedad3"/><circle cx="726.4" cy="796.5" r="1.2" fill="#dedad3"/><circle cx="646" cy="802.0" r="1.2" fill="#dedad3"/><circle cx="726.4" cy="802.0" r="1.2" fill="#dedad3"/><circle cx="646" cy="807.6" r="1.2" fill="#dedad3"/><circle cx="726.4" cy="807.6" r="1.2" fill="#dedad3"/><circle cx="646" cy="813.1" r="1.2" fill="#dedad3"/><circle cx="726.4" cy="813.1" r="1.2" fill="#dedad3"/><circle cx="646" cy="818.7" r="1.2" fill="#dedad3"/><circle cx="726.4" cy="818.7" r="1.2" fill="#dedad3"/><circle cx="646" cy="824.2" r="1.2" fill="#dedad3"/><circle cx="726.4" cy="824.2" r="1.2" fill="#dedad3"/><circle cx="646" cy="829.8" r="1.2" fill="#dedad3"/><circle cx="726.4" cy="829.8" r="1.2" fill="#dedad3"/><circle cx="646" cy="835.3" r="1.2" fill="#dedad3"/><circle cx="726.4" cy="835.3" r="1.2" fill="#dedad3"/><circle cx="646" cy="840.9" r="1.2" fill="#dedad3"/><circle cx="726.4" cy="840.9" r="1.2" fill="#dedad3"/><circle cx="646" cy="846.4" r="1.2" fill="#dedad3"/><circle cx="726.4" cy="846.4" r="1.2" fill="#dedad3"/><circle cx="646" cy="852.0" r="1.2" fill="#dedad3"/><circle cx="726.4" cy="852.0" r="1.2" fill="#dedad3"/><circle cx="646" cy="857.5" r="1.2" fill="#dedad3"/><circle cx="726.4" cy="857.5" r="1.2" fill="#dedad3"/><circle cx="646" cy="863.1" r="1.2" fill="#dedad3"/><circle cx="726.4" cy="863.1" r="1.2" fill="#dedad3"/><circle cx="646" cy="868.6" r="1.2" fill="#dedad3"/><circle cx="726.4" cy="868.6" r="1.2" fill="#dedad3"/><circle cx="646" cy="874.2" r="1.2" fill="#dedad3"/><circle cx="726.4" cy="874.2" r="1.2" fill="#dedad3"/><circle cx="646" cy="879.7" r="1.2" fill="#dedad3"/><circle cx="726.4" cy="879.7" r="1.2" fill="#dedad3"/><circle cx="646" cy="885.3" r="1.2" fill="#dedad3"/><circle cx="726.4" cy="885.3" r="1.2" fill="#dedad3"/><rect x="650.4" y="798.2" width="70.1" height="85.4" fill="#0a1628"/><path d="M686.72,800.65 C687.52,800.16 687.52,803.55 688.28,803.78 C689.04,804.00 689.63,801.68 690.52,801.77 C691.41,801.85 691.86,803.29 692.76,804.22 C693.65,805.16 693.92,805.88 694.99,806.46 C696.06,807.04 696.94,807.06 698.12,807.13 C699.30,807.20 699.84,806.35 700.91,806.80 C701.99,807.24 702.43,808.36 703.48,809.37 C704.54,810.37 705.50,810.39 706.17,811.82 C706.84,813.26 706.17,815.27 706.84,816.52 C707.51,817.77 708.25,817.41 709.52,818.08 C710.79,818.75 711.73,819.20 713.21,819.87 C714.68,820.54 717.01,820.36 716.90,821.44 C716.79,822.51 714.35,823.76 712.65,825.24 C710.95,826.71 709.43,827.25 708.40,828.81 C707.37,830.38 707.87,831.59 707.51,833.06 C707.15,834.54 706.61,834.89 706.61,836.19 C706.61,837.49 707.46,837.98 707.51,839.54 C707.55,841.11 707.42,842.40 706.84,844.01 C706.26,845.62 705.79,846.74 704.60,847.59 C703.42,848.44 702.39,848.53 700.91,848.26 C699.44,847.99 698.14,846.12 697.23,846.25 C696.31,846.38 696.15,847.50 696.33,848.93 C696.51,850.36 697.14,851.44 698.12,853.40 C699.10,855.37 699.91,856.67 701.25,858.77 C702.59,860.87 703.48,862.03 704.83,863.91 C706.17,865.79 707.11,866.06 707.96,868.16 C708.81,870.26 709.92,872.67 709.07,874.42 C708.22,876.16 706.35,876.11 703.71,876.87 C701.07,877.63 699.24,877.86 695.88,878.22 C692.53,878.57 690.74,878.62 686.94,878.66 C683.14,878.71 680.64,878.89 676.88,878.44 C673.13,877.99 669.06,877.50 668.17,876.43 C667.27,875.35 670.62,874.77 672.41,873.07 C674.20,871.38 675.41,869.81 677.11,867.93 C678.81,866.06 679.66,865.16 680.91,863.69 C682.16,862.21 683.14,862.39 683.37,860.56 C683.59,858.72 682.52,857.20 682.03,854.52 C681.53,851.84 681.94,848.71 680.91,847.14 C679.88,845.58 678.45,846.96 676.88,846.70 C675.32,846.43 674.29,846.52 673.08,845.80 C671.88,845.09 671.16,844.24 670.85,843.12 C670.54,842.00 671.74,841.29 671.52,840.21 C671.30,839.14 669.95,838.74 669.73,837.76 C669.51,836.77 670.85,836.10 670.40,835.30 C669.95,834.49 667.58,834.67 667.50,833.73 C667.41,832.79 669.02,831.94 669.95,830.60 C670.89,829.26 671.52,828.55 672.19,827.03 C672.86,825.51 672.90,824.57 673.31,823.00 C673.71,821.44 674.07,820.81 674.20,819.20 C674.34,817.59 673.62,816.43 673.98,814.95 C674.34,813.48 674.92,812.67 675.99,811.82 C677.06,810.98 678.05,811.11 679.34,810.71 C680.64,810.30 681.49,810.71 682.47,809.81 C683.46,808.92 683.41,808.07 684.26,806.24 C685.11,804.40 685.91,801.14 686.72,800.65Z" fill="url(#qf)"/><path d="M683.37,860.56 C685.02,859.13 686.67,857.96 689.18,856.53 C691.68,855.10 694.10,854.03 695.88,853.40 C697.67,852.78 697.05,852.33 698.12,853.40 C699.19,854.48 699.91,856.67 701.25,858.77 C702.59,860.87 703.48,862.03 704.83,863.91 C706.17,865.79 707.11,866.06 707.96,868.16 C708.81,870.26 709.92,872.67 709.07,874.42 C708.22,876.16 706.35,876.11 703.71,876.87 C701.07,877.63 699.24,877.86 695.88,878.22 C692.53,878.57 690.74,878.62 686.94,878.66 C683.14,878.71 680.64,878.89 676.88,878.44 C673.13,877.99 669.06,877.50 668.17,876.43 C667.27,875.35 670.62,874.77 672.41,873.07 C674.20,871.38 675.41,869.81 677.11,867.93 C678.81,866.06 679.66,865.16 680.91,863.69 C682.16,862.21 681.71,861.99 683.37,860.56Z" fill="url(#qb)"/><path d="M673.98,814.95 C674.02,813.61 674.92,812.67 675.99,811.82 C677.06,810.98 678.05,811.11 679.34,810.71 C680.64,810.30 681.49,810.71 682.47,809.81 C683.46,808.92 683.41,808.07 684.26,806.24 C685.11,804.40 685.91,801.14 686.72,800.65 C687.52,800.16 687.52,803.55 688.28,803.78 C689.04,804.00 689.63,801.68 690.52,801.77 C691.41,801.85 691.86,803.29 692.76,804.22 C693.65,805.16 693.92,805.88 694.99,806.46 C696.06,807.04 696.94,807.06 698.12,807.13 C699.30,807.20 699.84,806.35 700.91,806.80 C701.99,807.24 702.43,808.36 703.48,809.37 C704.54,810.37 705.50,810.39 706.17,811.82 C706.84,813.26 706.17,815.27 706.84,816.52 C707.51,817.77 708.25,817.41 709.52,818.08 C710.79,818.75 711.73,819.20 713.21,819.87 C714.68,820.54 717.01,820.36 716.90,821.44 C716.79,822.51 714.35,823.76 712.65,825.24 C710.95,826.71 709.43,827.25 708.40,828.81 C707.37,830.38 707.87,831.59 707.51,833.06 C707.15,834.54 706.61,834.89 706.61,836.19 C706.61,837.49 707.46,837.98 707.51,839.54 C707.55,841.11 707.42,842.40 706.84,844.01 C706.26,845.62 705.79,846.74 704.60,847.59 C703.42,848.44 702.39,848.53 700.91,848.26 C699.44,847.99 698.46,847.28 697.23,846.25 C696.00,845.22 695.71,844.64 694.77,843.12 C693.83,841.60 693.65,840.44 692.53,838.65 C691.41,836.86 690.52,835.97 689.18,834.18 C687.84,832.39 687.05,831.50 685.83,829.71 C684.60,827.92 684.37,826.91 683.03,825.24 C681.69,823.56 680.57,822.67 679.12,821.33 C677.67,819.98 676.79,819.80 675.77,818.53 C674.74,817.26 673.93,816.30 673.98,814.95Z" fill="#3d7080"/><path d="M684.26,806.24 C685.07,804.36 685.91,801.14 686.72,800.65 C687.52,800.16 687.52,803.55 688.28,803.78 C689.04,804.00 689.63,801.68 690.52,801.77 C691.41,801.85 691.86,803.29 692.76,804.22 C693.65,805.16 693.92,805.88 694.99,806.46 C696.06,807.04 696.94,807.06 698.12,807.13 C699.30,807.20 699.84,806.35 700.91,806.80 C701.99,807.24 702.43,808.36 703.48,809.37 C704.54,810.37 705.50,810.39 706.17,811.82 C706.84,813.26 706.17,815.27 706.84,816.52 C707.51,817.77 708.25,817.41 709.52,818.08 C710.79,818.75 711.73,819.20 713.21,819.87 C714.68,820.54 717.01,820.36 716.90,821.44 C716.79,822.51 714.35,823.76 712.65,825.24 C710.95,826.71 710.19,829.04 708.40,828.81 C706.61,828.59 705.77,826.18 703.71,824.12 C701.65,822.06 700.36,820.50 698.12,818.53 C695.88,816.56 694.77,815.71 692.53,814.28 C690.30,812.85 688.91,812.23 686.94,811.38 C684.98,810.53 683.23,811.06 682.70,810.04 C682.16,809.01 683.46,808.11 684.26,806.24Z" fill="#4d8795" opacity="0.85"/><path d="M683.81,810.48 C685.11,811.24 687.43,812.27 690.30,814.28 C693.16,816.30 694.99,817.73 698.12,820.54 C701.25,823.36 704.38,826.80 705.94,828.37" fill="none" stroke="#6aa6b0" stroke-width="0.7"/><path d="M680.24,863.69 C681.58,862.88 684.26,861.18 686.94,859.66 C689.63,858.14 691.19,857.25 693.65,856.09 C696.11,854.92 698.12,854.30 699.24,853.85" fill="none" stroke="#7fb4bc" stroke-width="0.5"/><text x="653.2" y="880.4" font-size="14" fill="#7fb4bc" textLength="13" lengthAdjust="spacingAndGlyphs">1/6</text></svg>
<div class="blk">
<span class="t b" style="left:660.3px;top:911px;font-size:13.6px;transform:scaleX(1.0613)">The 1/6</span>
</div>
<p class="blk">
<span class="t" style="left:69.8px;top:973px;font-size:15.3px;transform:scaleX(1.1150);word-spacing:2.393px"><b class="ib">Interpretation</b>: The dark background clearly obstructs the emission signal due to its placement over the</span>
<span class="t" style="left:69.8px;top:991px;font-size:15.3px;transform:scaleX(1.0997)">paper coating.</span>
</p>
</section>
</div>
</body></html>
